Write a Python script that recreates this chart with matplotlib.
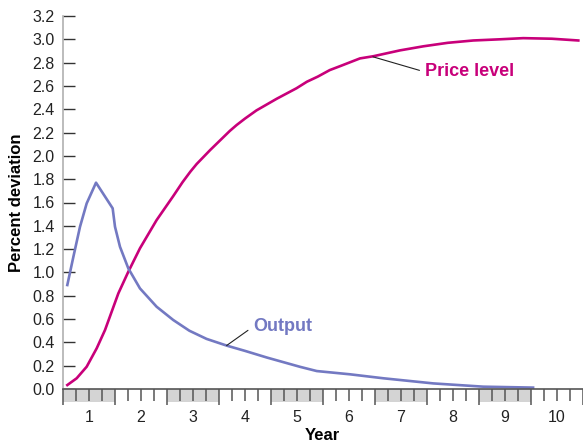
import matplotlib
matplotlib.use("Agg")
import matplotlib.pyplot as plt

plt.rcParams['font.family'] = ['Liberation Sans', 'DejaVu Sans']

# data
years = [1, 2, 3, 4, 5, 6, 7, 8, 9, 10]
shaded_years = [1, 3, 5, 7, 9]
yticks = [0.0, 0.2, 0.4, 0.6, 0.8, 1.0, 1.2, 1.4, 1.6, 1.8, 2.0, 2.2, 2.4, 2.6, 2.8, 3.0, 3.2]

price_x = [0.583, 0.763, 0.955, 1.148, 1.308, 1.436, 1.564, 1.756, 1.98, 2.30,
           2.62, 2.80, 2.95, 3.07, 3.33, 3.71, 3.84, 4.0, 4.22, 4.61, 4.99, 5.19,
           5.40, 5.63, 5.83, 6.21, 6.47, 6.98, 7.43, 7.90, 8.39, 8.90, 9.35, 9.90,
           10.41]
price_y = [0.034, 0.092, 0.191, 0.349, 0.506, 0.663, 0.82, 1.006, 1.207, 1.449,
           1.655, 1.775, 1.865, 1.93, 2.05, 2.215, 2.265, 2.32, 2.39, 2.49, 2.58, 2.636,
           2.68, 2.736, 2.77, 2.836, 2.855, 2.905, 2.94, 2.97, 2.99, 3.0, 3.01, 3.005,
           2.99]

output_x = [0.583, 0.70, 0.827, 0.955, 1.135, 1.455, 1.50, 1.596, 1.756, 1.98,
            2.30, 2.62, 2.93, 3.26, 3.65, 4.0, 4.42, 5.06, 5.38, 6.02, 6.66,
            7.62, 8.58, 9.54]
output_y = [0.892, 1.135, 1.392, 1.592, 1.77, 1.55, 1.392, 1.22, 1.035, 0.863,
            0.706, 0.592, 0.50, 0.43, 0.372, 0.327, 0.27, 0.19, 0.154, 0.126, 0.092,
            0.048, 0.02, 0.012]

price_col = '#c8007a'
output_col = '#7379c2'

fig = plt.figure(figsize=(5.83, 4.43), dpi=100)
W, H = 583.0, 443.0

# main axes: x 63..583 px, y 16..389 px
ax = fig.add_axes([63 / W, 1 - 389 / H, 520 / W, 373 / H])
ax.plot(price_x, price_y, color=price_col, lw=1.9, solid_joinstyle='round')
ax.plot(output_x, output_y, color=output_col, lw=1.9, solid_joinstyle='round')
ax.set_xlim(0.5, 10.5)
ax.set_ylim(0, 3.2)
ax.set_xticks([])
ax.set_yticks(yticks)
ax.set_yticklabels(['%.1f' % v for v in yticks])
ax.tick_params(axis='y', direction='in', length=8.6, width=1, color='#333333',
               labelsize=11.5, labelcolor='#222222', pad=6)
for s in ['top', 'right', 'bottom']:
    ax.spines[s].set_visible(False)
ax.spines['left'].set_color('#b0b0b0')
ax.spines['left'].set_linewidth(1.2)
ax.set_ylabel('Percent deviation', fontsize=12, fontweight='bold', labelpad=6)

ax.annotate('Price level', xy=(6.46, 2.85), xytext=(7.46, 2.72),
            fontsize=13, fontweight='bold', color=price_col, ha='left', va='center',
            arrowprops=dict(arrowstyle='-', color='#222222', lw=0.8,
                            relpos=(0, 0.5), shrinkA=2, shrinkB=0))
ax.annotate('Output', xy=(3.647, 0.373), xytext=(4.154, 0.534),
            fontsize=13, fontweight='bold', color=output_col, ha='left', va='center',
            arrowprops=dict(arrowstyle='-', color='#222222', lw=0.8,
                            relpos=(0, 0.5), shrinkA=2, shrinkB=0))

# year strip below the axis: 389..402 px
st = fig.add_axes([63 / W, 1 - 402 / H, 520 / W, 13 / H])
st.set_xlim(0.5, 10.5)
st.set_ylim(0, 1)
for y in shaded_years:
    st.axvspan(y - 0.5, y + 0.5, color='#d4d4d4', lw=0)
bounds = [y - 0.5 for y in years] + [years[-1] + 0.5]
quarters = [y - 0.5 + q * 0.25 for y in years for q in (1, 2, 3)]
st.vlines(quarters, 1 - 12 / 13, 1, color='#555555', lw=1.1)
st.vlines(bounds, 1 - 16 / 13, 1, color='#555555', lw=1.1, clip_on=False)
for s in ['left', 'right', 'bottom']:
    st.spines[s].set_visible(False)
st.spines['top'].set_color('#555555')
st.spines['top'].set_linewidth(1.2)
st.set_yticks([])
st.set_xticks(years)
st.set_xticklabels([str(y) for y in years])
st.tick_params(axis='x', length=0, labelsize=11.5, labelcolor='#222222', pad=6)

fig.text(322 / W, 1 - 435 / H, 'Year', fontsize=12, fontweight='bold',
         ha='center', va='center')

fig.savefig('out.png', dpi=100)
